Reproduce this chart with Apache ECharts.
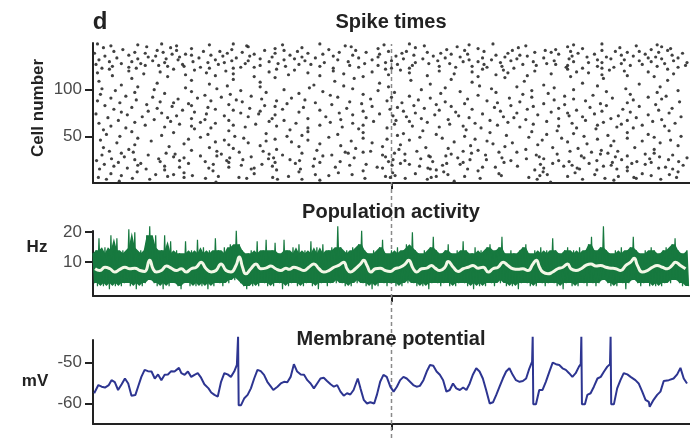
<!DOCTYPE html>
<html>
<head>
<meta charset="utf-8">
<script src="https://cdn.jsdelivr.net/npm/echarts@6/dist/echarts.min.js"></script>
<style>
  html, body { margin: 0; padding: 0; background: #fff; }
  #chart { width: 690px; height: 438px; }
</style>
</head>
<body>
<div id="chart"></div>
<script>
// ---- Spike raster: spike times (ms) for cells 1..149 ----
const spikeTimes = [
  [412, 1533], [88, 1210], [760, 1745],
  [45, 190, 618, 700, 1120, 1488, 1640, 1902],
  [132, 377, 515, 911, 1046, 1297, 1715, 1820],
  [18, 305, 489, 602, 996, 1133, 1460, 1812, 1955],
  [250, 420, 655, 980, 1150, 1245, 1590, 1760],
  [95, 333, 790, 1012, 1368, 1497, 1870],
  [210, 270, 745, 868, 1189, 1522, 1681, 1931],
  [60, 540, 1080, 1360, 1840],
  [305, 822, 1004, 1615],
  [148, 690, 1175, 1508, 1960],
  [402, 905, 1290, 1790],
  [240, 615, 1150, 1480, 1688],
  [22, 178, 530, 695, 1130, 1255, 1630, 1755, 1942],
  [115, 388, 540, 970, 1122, 1510, 1622, 1895],
  [290, 455, 812, 952, 1305, 1348, 1790, 1918],
  [70, 240, 601, 738, 1094, 1422, 1577, 1710],
  [150, 497, 860, 1002, 1171, 1605, 1736, 1977],
  [38, 403, 566, 915, 1060, 1230, 1499, 1850],
  [160, 320, 678, 1030, 1185, 1540, 1662, 1805],
  [85, 455, 610, 760, 1240, 1377, 1740, 1870],
  [225, 376, 828, 990, 1138, 1595, 1822, 1962],
  [12, 290, 448, 692, 1045, 1400, 1560, 1688],
  [140, 502, 660, 1005, 1263, 1318, 1771, 1928],
  [62, 220, 588, 742, 1098, 1452, 1510, 1865],
  [305, 458, 605, 875, 1222, 1370, 1645, 1990],
  [105, 270, 530, 980, 1130, 1495, 1750, 1898],
  [360, 415, 770, 1125, 1182, 1636, 1790],
  [30, 185, 635, 800, 970, 1315, 1485, 1942],
  [275, 430, 590, 1045, 1200, 1555, 1700, 1850],
  [95, 245, 700, 855, 1010, 1268, 1725, 1880],
  [135, 490, 845, 905, 1360, 1420, 1670],
  [55, 415, 570, 930, 1085, 1240, 1598, 1758],
  [330, 750, 1290, 1703],
  [120, 615, 1025, 1450, 1880],
  [470, 880, 1190, 1625],
  [35, 390, 1115, 1540, 1815],
  [255, 690, 970, 1380],
  [560, 830, 1265, 1735, 1960],
  [140, 455, 1030, 1490],
  [305, 760, 1340, 1655],
  [80, 520, 935, 1405, 1900],
  [410, 665, 1210, 1590],
  [195, 580, 865, 1320, 1745, 1840],
  [25, 440, 720, 1060, 1505, 1935],
  [320, 610, 985, 1280, 1690],
  [150, 505, 905, 1170, 1570, 1790],
  [360, 790, 1095, 1460, 1880],
  [90, 475, 650, 1245, 1645, 1970],
  [230, 700, 1020, 1385, 1725],
  [45, 385, 820, 1150, 1520, 1860],
  [580, 1040, 1610],
  [270, 905, 1330, 1790],
  [130, 720, 1470],
  [455, 1105, 1555, 1930],
  [35, 660, 1250],
  [340, 890, 1685],
  [110, 395, 720, 985, 1300, 1620, 1810],
  [240, 510, 835, 1160, 1430, 1755],
  [60, 330, 615, 1070, 1240, 1560, 1915],
  [175, 470, 760, 905, 1355, 1690, 1840],
  [290, 545, 1010, 1195, 1475, 1770],
  [20, 410, 680, 870, 1280, 1605, 1950],
  [140, 360, 795, 1120, 1390, 1710],
  [260, 590, 940, 1060, 1520, 1875],
  [85, 455, 640, 1015, 1330, 1650, 1790],
  [205, 375, 830, 1190, 1450, 1905],
  [330, 600, 720, 1100, 1560, 1735],
  [50, 250, 915, 1260, 1410, 1820],
  [165, 520, 780, 1050, 1375, 1640, 1970],
  [280, 440, 1005, 1225, 1595, 1760],
  [115, 610, 870, 1145, 1490, 1860],
  [10, 380, 555, 960, 1305, 1680],
  [230, 495, 825, 1080, 1420, 1590, 1930],
  [95, 340, 690, 1215, 1535, 1800],
  [185, 560, 905, 1040, 1365, 1705],
  [300, 470, 760, 1160, 1620, 1895],
  [70, 410, 635, 995, 1270, 1455, 1775],
  [215, 525, 850, 1110, 1560, 1940],
  [130, 385, 705, 1020, 1345, 1665],
  [265, 610, 935, 1200, 1475, 1830],
  [40, 330, 575, 1075, 1400, 1720],
  [180, 455, 800, 1150, 1580, 1885],
  [320, 650, 900, 1245, 1510, 1700],
  [90, 270, 745, 1035, 1355, 1790],
  [225, 500, 860, 1180, 1430, 1965],
  [15, 395, 615, 985, 1320, 1650],
  [145, 480, 710, 1090, 1545, 1810],
  [285, 565, 930, 1255, 1610, 1905],
  [60, 350, 665, 1130, 1395, 1740],
  [200, 430, 820, 1000, 1470, 1860],
  [110, 530, 1060, 1580, 1920],
  [375, 795, 1290, 1675],
  [25, 460, 905, 1440, 1800],
  [240, 690, 1165, 1525],
  [140, 580, 1010, 1350, 1890],
  [330, 770, 1230, 1720],
  [75, 495, 955, 1470, 1960],
  [205, 640, 1100, 1610],
  [30, 415, 870, 1335, 1785],
  [310, 725, 1180, 1545],
  [150, 560, 990, 1420, 1900],
  [450, 840, 1295, 1690],
  [95, 740, 1510],
  [390, 1130, 1830],
  [215, 960, 1640],
  [560, 1270],
  [20, 810, 1445],
  [330, 1065, 1925],
  [470, 1200],
  [130, 875, 1710],
  [610, 1380],
  [250, 540, 905, 1290, 1600, 1880],
  [65, 410, 760, 1120, 1455, 1790],
  [310, 655, 990, 1350, 1705],
  [170, 470, 840, 1210, 1535, 1945],
  [15, 380, 720, 1060, 1390, 1660],
  [225, 590, 935, 1270, 1620, 1860],
  [120, 445, 805, 1160, 1480, 1780],
  [340, 675, 1030, 1375, 1730],
  [55, 270, 615, 980, 1305, 1590, 1925],
  [30, 145, 390, 470, 805, 1000, 1060, 1410, 1640, 1705],
  [120, 360, 495, 540, 890, 1215, 1320, 1585, 1745, 1960],
  [65, 250, 305, 645, 760, 1160, 1270, 1370, 1690, 1890],
  [175, 220, 560, 860, 955, 1070, 1485, 1590, 1800, 1985],
  [10, 300, 420, 690, 730, 1020, 1310, 1440, 1550, 1840],
  [95, 160, 510, 620, 910, 1125, 1195, 1520, 1770, 1915],
  [240, 385, 440, 775, 980, 1080, 1365, 1660, 1705, 1990],
  [55, 130, 335, 590, 855, 1240, 1290, 1475, 1610, 1870],
  [200, 465, 520, 710, 1000, 1155, 1400, 1545, 1830, 1945],
  [20, 285, 410, 640, 820, 935, 1260, 1335, 1690, 1780],
  [150, 245, 560, 675, 1040, 1105, 1420, 1595, 1735, 1905],
  [80, 355, 480, 745, 890, 1180, 1305, 1510, 1860, 1960],
  [185, 290, 600, 700, 955, 1230, 1380, 1655, 1720, 1885],
  [40, 210, 435, 525, 805, 1015, 1140, 1455, 1605, 1810],
  [120, 330, 395, 660, 870, 1075, 1350, 1430, 1770, 1940],
  [265, 310, 540, 770, 960, 1200, 1255, 1560, 1680, 1850],
  [5, 175, 450, 610, 720, 1035, 1165, 1390, 1625, 1975],
  [140, 235, 500, 825, 915, 1120, 1480, 1535, 1790, 1895],
  [70, 370, 425, 685, 990, 1050, 1310, 1600, 1750, 1830],
  [215, 280, 575, 640, 880, 1245, 1405, 1515, 1705, 1925],
  [100, 465, 790, 1185, 1550, 1870],
  [330, 610, 955, 1290, 1640, 1935],
  [35, 260, 700, 1080, 1425, 1765],
  [180, 520, 865, 1220, 1590, 1905],
  [60, 280, 515, 845, 1110, 1450, 1820],
  [150, 390, 635, 975, 1260, 1610, 1890],
  [15, 230, 470, 760, 1060, 1340, 1705]
];

// ---- Population activity: rate (Hz) sampled every 5 ms ----
const popStep = 5;
const popRate = [
  13,3,14,2,18,4,12,2,15,3,13,1,19,4,14,2,18,3,12,2,
  14,3,13,4,21,2,15,3,20,1,13,4,14,2,12,3,19,5,22,4,
  15,3,19,2,13,4,14,1,19,3,13,2,17,4,12,3,14,2,13,1,
  12,3,17,4,13,2,14,3,12,2,17.5,4,13,2,15,3,12,1,14,3,
  13,2,18,4,14,3,12,2,15,4,13,3,16,5,15,4,20.5,6,16,3,
  14,2,12,1,13,3,14,2,12,3,17,2,13,4,14,3,17.5,2,12,3,
  14,2,16.5,4,13,3,12,1,17.5,3,14,2,13,3,15,4,12,2,16,3,
  13,2,14,3,12,4,17,2,13,3,15,1,12,3,16,4,13,2,14,3,
  15,4,14,3,22,5,15,3,13,2,14,3,12,2,15,4,14,3,16,4,
  20.5,3,14,2,13,3,12,1,14,3,13,2,15,4,17.5,3,13,2,12,3,
  14,4,13,2,15,3,12,2,14,4,16,3,15,4,20,3,14,2,13,3,
  12,2,14,3,13,1,15,3,18.5,4,14,3,12,2,13,3,14,4,16,2,
  13,3,12,2,14,3,13,4,17,3,14,2,12,3,13,1,15,3,12,2,
  14,3,13,2,15,4,16,3,13,2,14,4,15,3,18.5,4,13,2,12,3,
  14,2,13,3,12,1,14,3,15,4,16,3,13,2,12,3,14,2,13,4,
  15,3,12,2,14,3,13,4,18,3,14,2,13,3,12,1,14,3,15,4,
  13,2,14,3,12,2,15,4,13,3,14,2,16,4,18.5,3,14,2,13,3,
  15,4,22,5,14,3,13,2,12,3,14,2,13,4,15,3,12,1,14,3,
  15,4,18.5,5,14,3,13,2,12,3,14,4,13,2,15,3,14,2,12,3,
  13,2,14,3,15,4,13,3,16,5,18,4,14,3,13,2,12,3,14,2
];

// Smoothed population rate (Hz)
const smoothTime = [
  7,23,40,57,73,90,107,123,140,157,173,190,201,212,229,246,262,279,296,312,
  329,346,362,379,396,412,429,446,462,479,490,501,512,529,546,562,579,596,612,629,646,
  657,673,690,707,723,740,757,773,790,807,823,840,851,862,879,896,907,918,931,946,
  962,979,996,1012,1029,1046,1057,1073,1084,1101,1118,1134,1146,1162,1179,1190,1207,1223,1240,1257,
  1273,1290,1307,
  1324,1340,1357,1374,1390,1407,1424,1440,1457,1474,1485,1496,1507,1524,1540,1557,1574,1590,1601,1618,
  1635,1651,1668,1685,1701,1718,1735,1751,1768,1785,1801,1813,1824,1840,1857,1874,1890,1907,1924,1940,
  1951,1968,1985
];
const smoothRate = [
  7.8,7.2,8.3,7.8,6.7,7.6,8.3,7.8,8.0,7.2,6.9,10.6,7.8,6.7,7.2,8.7,8.0,7.2,7.8,6.7,
  7.8,8.3,10.0,7.8,6.7,7.2,9.4,7.2,6.7,8.9,11.7,8.3,6.1,7.8,9.4,7.8,8.0,8.7,7.8,7.2,8.0,
  7.6,8.3,7.8,7.2,8.3,9.4,7.8,6.7,7.2,8.3,8.9,10.0,7.8,6.7,7.8,9.4,10.6,8.9,6.7,7.8,
  8.0,7.2,6.9,7.8,8.3,9.4,10.6,7.8,6.7,7.8,8.0,8.9,8.0,7.2,8.3,10.2,8.3,6.9,7.8,8.3,
  8.9,8.0,8.3,
  6.7,7.8,8.3,10.0,8.9,7.8,7.6,7.8,7.2,9.4,10.6,8.3,6.7,6.1,6.7,7.8,8.3,9.4,7.8,7.2,
  7.8,8.9,9.4,8.7,8.9,8.3,8.0,7.8,7.2,8.9,10.0,11.3,8.9,6.7,7.2,8.3,8.9,8.3,7.8,8.9,
  10.0,8.9,7.8
];

// ---- Membrane potential (mV) ----
const vmTime = [
  4,18,29,40,53,62,73,84,96,107,118,129,142,151,162,173,184,196,207,218,
  229,240,251,262,273,288,296,307,318,329,340,351,362,373,387,396,407,418,429,440,
  451,462,473,482,486,488,496,507,518,529,540,551,562,573,584,596,604,618,629,640,
  651,662,673,684,696,707,718,729,740,751,762,773,784,796,807,818,829,840,851,862,
  873,887,896,907,918,929,942,951,962,973,984,
  996,1007,1018,1029,1040,1051,1062,1073,1084,1095,1107,1118,1129,1140,1151,1162,1173,1184,1195,1206,
  1217,1229,1240,1251,1262,1273,1284,1295,1306,1317,1329,1340,1351,1362,1373,1384,1395,1406,1417,1429,
  1440,1451,1462,1471,1473,1475,1484,1495,1506,1517,1529,1540,1551,1562,1573,1584,1595,1606,1617,1628,
  1634,1636,1638,1648,1656,1667,1678,1690,1701,1712,1723,1732,1734,1736,1745,1756,1767,1778,1790,1801,
  1817,1828,1840,1851,1862,1865,1878,1890,1901,1912,1929,1945,1957,1968,1979,1990
];
const vmValue = [
  -57.5,-55.5,-55.9,-56.1,-55.5,-54.3,-54.8,-56.7,-55.3,-53.9,-55.1,-58.1,-57.9,-55.9,-53.5,-51.8,-52.1,-52.2,-53.9,-52.9,
  -54.3,-53.0,-52.9,-52.1,-52.2,-51.3,-52.6,-53.0,-52.2,-53.5,-53.0,-52.6,-53.7,-55.3,-56.3,-57.3,-57.9,-58.3,-54.7,-52.6,
  -52.9,-53.5,-52.2,-50.6,-43.7,-60.4,-60.4,-58.7,-57.9,-56.3,-53.9,-51.8,-52.1,-53.0,-54.7,-55.9,-56.7,-55.9,-55.1,-54.7,
  -54.8,-53.5,-50.4,-52.2,-52.9,-53.0,-54.3,-55.1,-56.3,-55.1,-53.9,-53.7,-54.5,-55.3,-55.9,-55.5,-57.1,-58.1,-57.5,-57.8,
  -56.7,-53.9,-56.3,-59.1,-60.0,-59.7,-60.0,-57.9,-54.7,-53.0,-53.5,
  -55.9,-57.1,-55.9,-54.3,-53.5,-53.9,-54.7,-55.5,-55.9,-55.7,-54.3,-52.2,-50.6,-50.8,-52.2,-53.0,-54.3,-57.1,-56.7,-55.1,
  -56.3,-56.7,-56.1,-56.7,-55.1,-52.9,-51.4,-52.2,-53.9,-56.7,-60.0,-59.7,-57.9,-55.9,-53.9,-52.2,-51.4,-53.0,-54.3,-54.7,
  -54.5,-53.9,-51.4,-49.8,-43.7,-60.2,-60.2,-56.7,-56.7,-54.7,-52.2,-50.0,-50.4,-50.6,-51.4,-51.8,-52.6,-53.5,-52.6,-51.0,
  -50.4,-43.7,-60.2,-60.2,-57.9,-57.5,-55.9,-53.9,-53.5,-52.2,-51.0,-50.4,-43.7,-60.2,-60.2,-56.3,-54.3,-52.6,-52.9,-53.5,
  -54.3,-55.1,-57.1,-59.1,-59.6,-60.8,-59.1,-57.9,-57.1,-54.5,-54.3,-53.9,-52.9,-51.3,-53.9,-55.1
];

// ---- Axis ticks ----
const cellTicks = [50, 100];
const rateTicks = [10, 20];
const vmTicks = [-60, -50];
const timeTicks = [1000];
const markerTime = 1000;

// ---- Build series data ----
const rasterData = [];
spikeTimes.forEach((times, i) => times.forEach(t => rasterData.push([t, i + 1])));
const popData = popRate.map((v, i) => [i * popStep, v]);
// Core of the noisy trace: each peak / trough replaced by the median of its
// neighbourhood, so isolated excursions remain as thin strokes of the trace
const popPeaks = popData.filter((_, i) => i % 2 === 0);
const popTroughs = popData.filter((_, i) => i % 2 === 1);
const median3 = (a, b, c) => Math.max(Math.min(a, b), Math.min(Math.max(a, b), c));
const coreOf = arr => arr.map((p, i) =>
  [p[0], median3((arr[i - 1] || p)[1], p[1], (arr[i + 1] || p)[1])]);
const coreTop = coreOf(popPeaks);
const coreBottom = coreOf(popTroughs);
const smoothData = smoothTime.map((t, i) => [t, smoothRate[i]]);
const vmData = vmTime.map((t, i) => [t, vmValue[i]]);

const FONT = '"Liberation Sans", Arial, Helvetica, sans-serif';
const INK = '#222';
const GREEN = '#17793f';

function timeAxis(gridIndex) {
  return {
    type: 'value', gridIndex, min: 0, max: 2000,
    axisLine: { show: true, onZero: false, lineStyle: { color: INK, width: 2 } },
    axisTick: { show: true, customValues: timeTicks, length: 6, lineStyle: { color: INK, width: 2 } },
    axisLabel: { show: false },
    splitLine: { show: false }
  };
}
function valueAxis(gridIndex, min, max, ticks) {
  return {
    type: 'value', gridIndex, min, max,
    axisLine: { show: true, onZero: false, lineStyle: { color: INK, width: 2 } },
    axisTick: { show: true, customValues: ticks, length: 8, lineStyle: { color: INK, width: 2 } },
    axisLabel: { show: true, customValues: ticks, margin: 11, color: '#4a4a4a', fontFamily: FONT, fontSize: 17 },
    splitLine: { show: false }
  };
}

function label(text, x, y, size, extra) {
  return Object.assign({
    type: 'text', x, y, z: 100,
    style: { text, font: 'bold ' + size + 'px ' + FONT, fill: INK, align: 'center', verticalAlign: 'middle' }
  }, extra || {});
}

// Filled band between the lower and upper core envelopes
function renderBand(params, api) {
  const pts = [];
  coreTop.forEach(p => pts.push(api.coord(p)));
  for (let i = coreBottom.length - 1; i >= 0; i--) pts.push(api.coord(coreBottom[i]));
  return { type: 'polygon', shape: { points: pts }, style: { fill: GREEN } };
}

const chart = echarts.init(document.getElementById('chart'), null, { renderer: 'canvas' });
chart.setOption({
  animation: false,
  backgroundColor: '#fff',
  grid: [
    { left: 93, top: 43, width: 600, height: 140 },
    { left: 93, top: 231, width: 600, height: 65 },
    { left: 93, top: 340, width: 600, height: 84 },
    { left: 93, top: 44, width: 600, bottom: 0 }
  ],
  xAxis: [
    timeAxis(0), timeAxis(1), timeAxis(2),
    { type: 'value', gridIndex: 3, min: 0, max: 2000, show: false }
  ],
  yAxis: [
    valueAxis(0, 0, 150, cellTicks),
    valueAxis(1, -1.3, 20.4, rateTicks),
    valueAxis(2, -65, -44.5, vmTicks),
    { type: 'value', gridIndex: 3, min: 0, max: 1, show: false }
  ],
  graphic: [
    label('d', 100, 22, 24),
    label('Spike times', 391, 22, 20),
    label('Population activity', 391, 212, 20),
    label('Membrane potential', 391, 339, 20),
    label('Cell number', 38, 108, 17, { rotation: Math.PI / 2 }),
    label('Hz', 37, 247, 17),
    label('mV', 35, 381, 17)
  ],
  series: [
    {
      type: 'line', xAxisIndex: 3, yAxisIndex: 3, z: 1, silent: true,
      data: [[markerTime, 0], [markerTime, 1]], symbol: 'none',
      lineStyle: { color: '#8a8a8a', width: 1.5, type: [4, 3] }
    },
    {
      type: 'scatter', xAxisIndex: 0, yAxisIndex: 0, z: 3, silent: true,
      data: rasterData, symbol: 'circle', symbolSize: 3.2,
      itemStyle: { color: '#2c2c2c', opacity: 0.9 }
    },
    {
      type: 'custom', xAxisIndex: 1, yAxisIndex: 1, z: 2, silent: true,
      data: [0], renderItem: renderBand
    },
    {
      type: 'line', xAxisIndex: 1, yAxisIndex: 1, z: 3, silent: true, clip: false,
      data: popData, symbol: 'none',
      lineStyle: { color: GREEN, width: 1.2 }
    },
    {
      type: 'line', xAxisIndex: 1, yAxisIndex: 1, z: 4, silent: true,
      data: smoothData, symbol: 'none', smooth: 0.5,
      lineStyle: { color: '#f3f7e6', width: 3 }
    },
    {
      type: 'line', xAxisIndex: 2, yAxisIndex: 2, z: 3, silent: true, clip: false,
      data: vmData, symbol: 'none',
      lineStyle: { color: '#2d3591', width: 2 }
    }
  ]
});
</script>
</body>
</html>
